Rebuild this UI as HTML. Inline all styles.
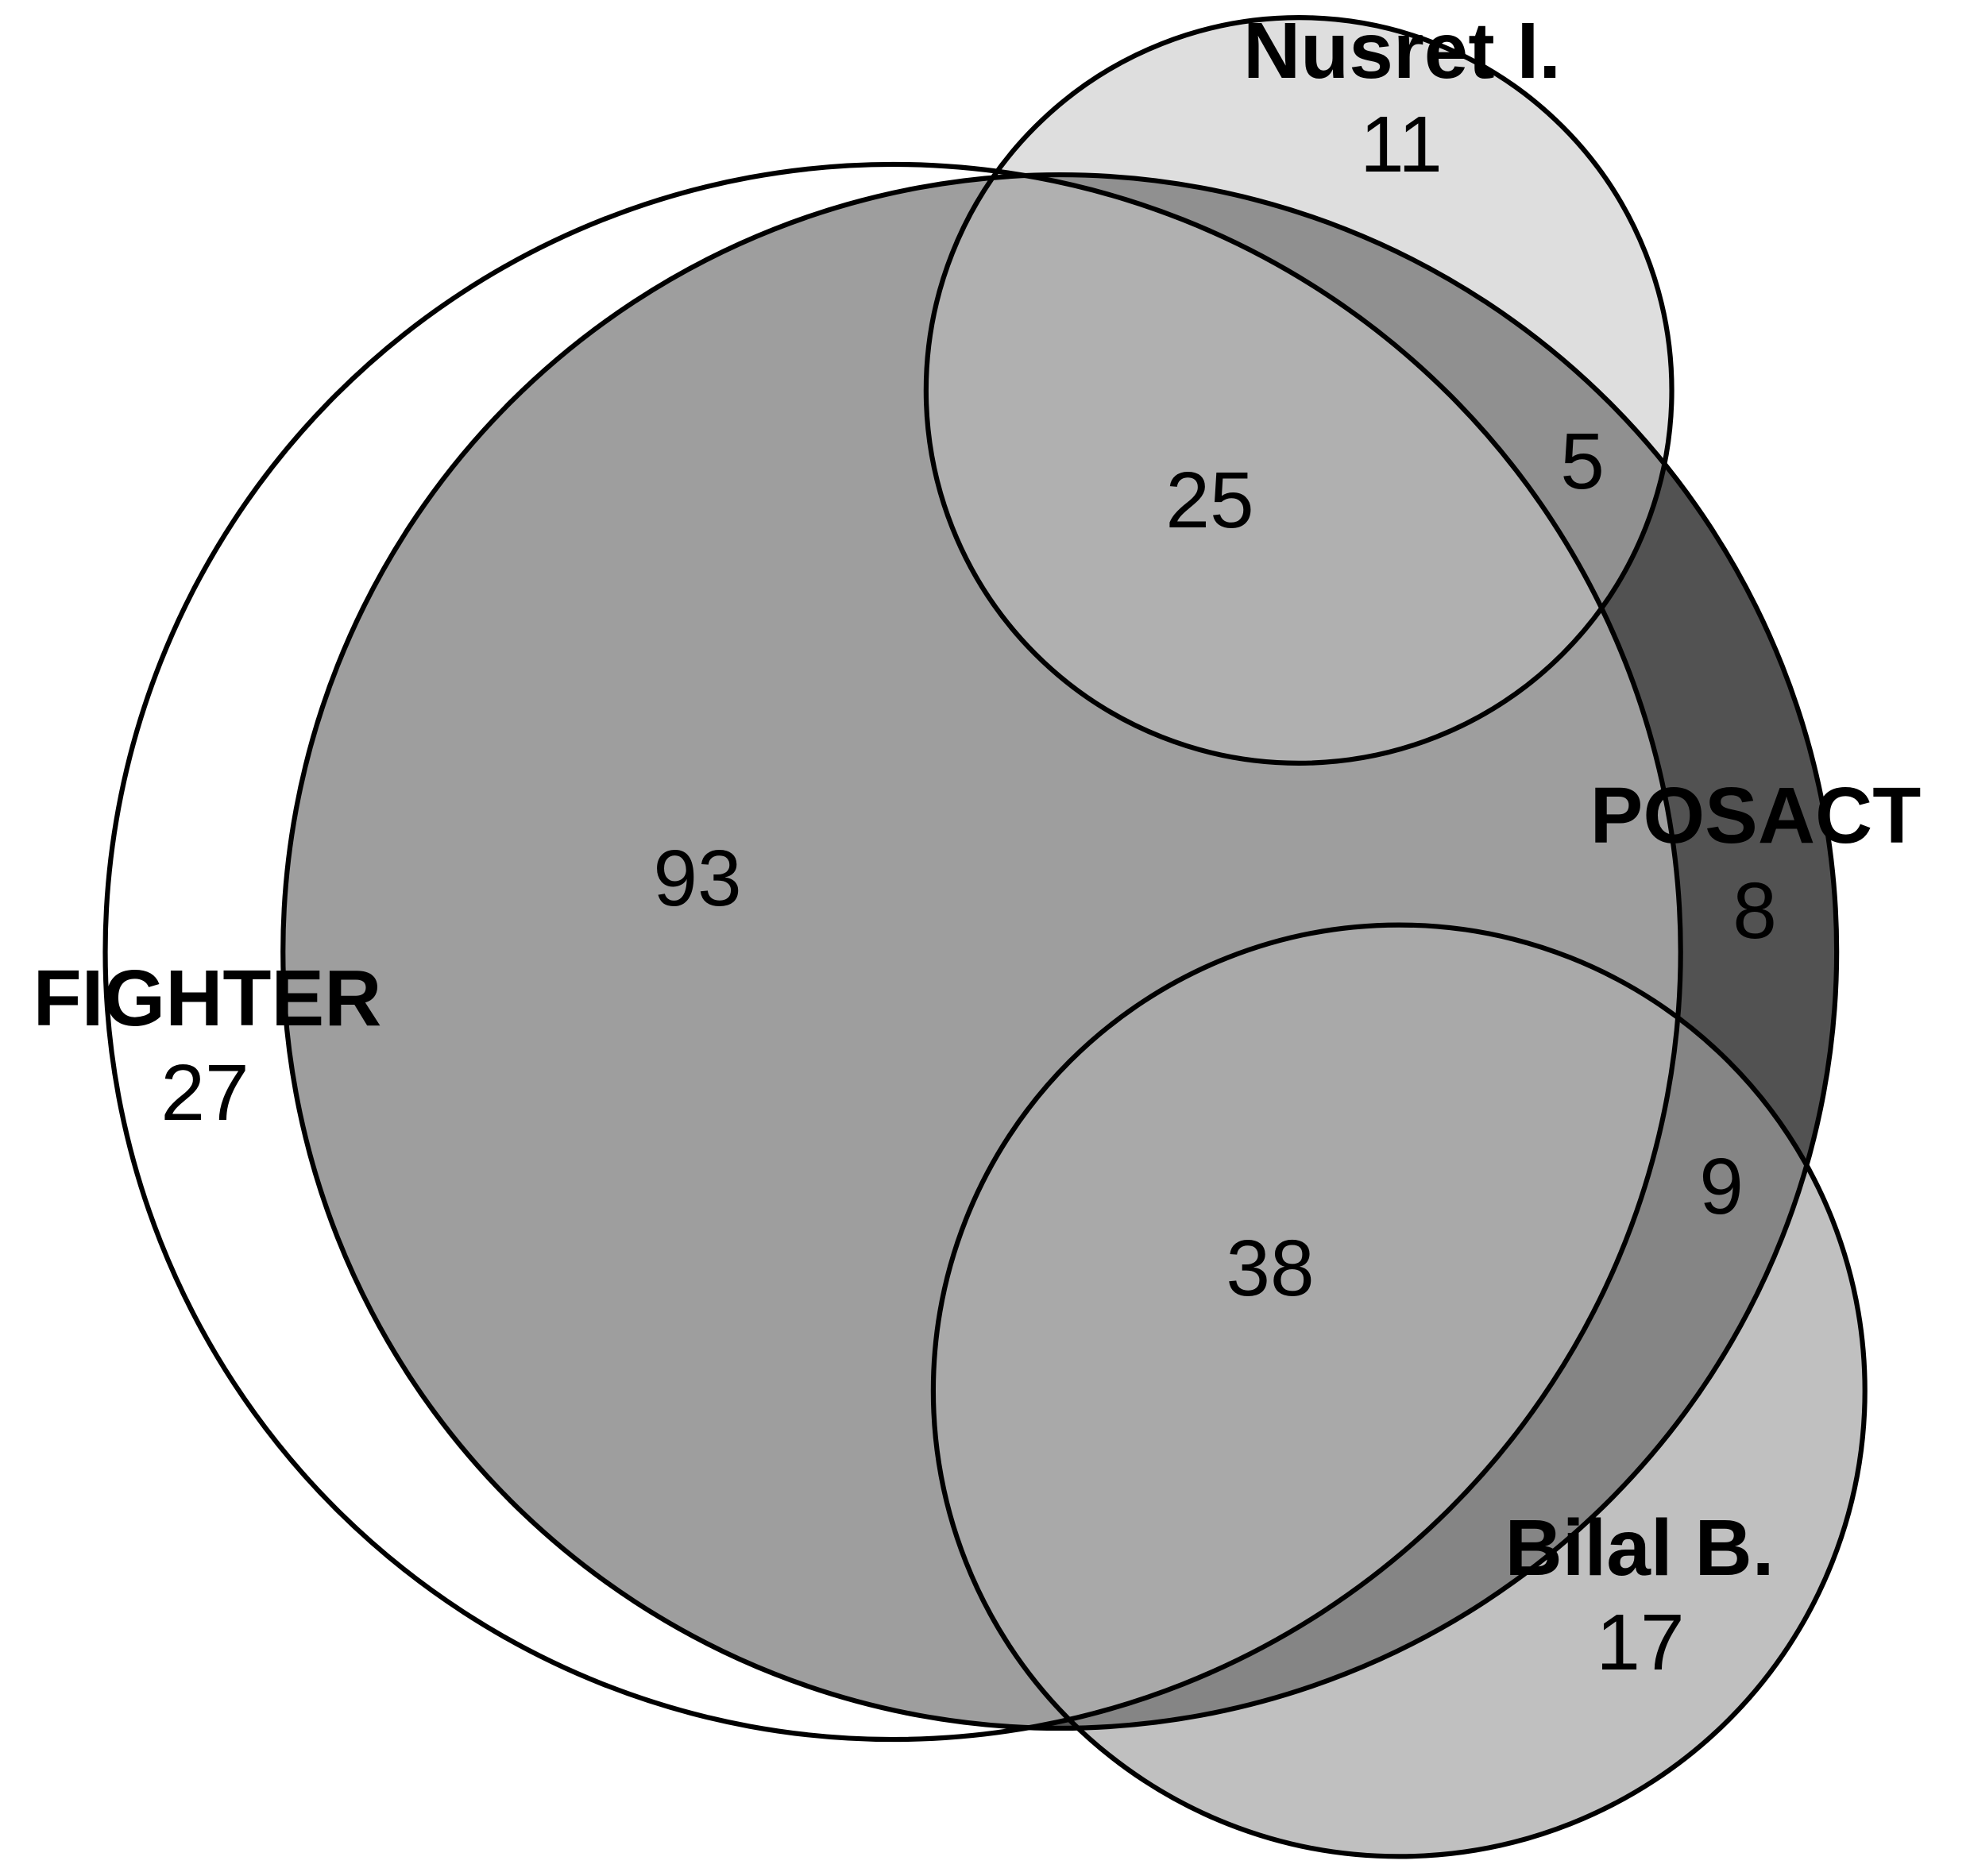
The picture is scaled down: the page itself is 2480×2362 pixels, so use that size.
<!DOCTYPE html>
<html lang="en">
<head>
<meta charset="utf-8">
<title>Venn diagram</title>
<style>
html,body{margin:0;padding:0;background:#fff;width:2480px;height:2362px;overflow:hidden}
svg{display:block}
text{font-family:"Liberation Sans",Arial,sans-serif;font-size:100px;fill:#000;text-anchor:middle}
.set-name{font-weight:bold}
</style>
</head>
<body>
<svg id="venn" xmlns="http://www.w3.org/2000/svg" width="2480" height="2362" viewBox="0 0 2480 2362">
<rect width="2480" height="2362" fill="#ffffff"/>
</svg>
<script>
// Data: printed counts for each region of the diagram
const setNames = ["FIGHTER", "POSACT", "Nusret I.", "Bilal B."];
const onlyCounts = [27, 8, 11, 17];
const fighterPosactCount = [93];
const fighterPosactNusretCount = [25];
const posactNusretCount = [5];
const fighterPosactBilalCount = [38];
const posactBilalCount = [9];

// Set totals are the sums of their regions
const totals = [
  onlyCounts[0] + fighterPosactCount[0] + fighterPosactNusretCount[0] + fighterPosactBilalCount[0],
  onlyCounts[1] + fighterPosactCount[0] + fighterPosactNusretCount[0] + posactNusretCount[0] + fighterPosactBilalCount[0] + posactBilalCount[0],
  onlyCounts[2] + fighterPosactNusretCount[0] + posactNusretCount[0],
  onlyCounts[3] + fighterPosactBilalCount[0] + posactBilalCount[0]
];

// Circle area is proportional to the set total
function radius(total) { return 73.3 * Math.sqrt(total); }

const svg = document.getElementById("venn");
const NS = "http://www.w3.org/2000/svg";
function centerOf(i) {
  if (i === 0) return [1124.1, 1198.5];
  if (i === 1) return [1334.2, 1198];
  if (i === 2) return [1635.2, 491.5];
  return [1761.3, 1751];
}
function circle(i) {
  const el = document.createElementNS(NS, "circle");
  const c = centerOf(i);
  el.setAttribute("cx", c[0]);
  el.setAttribute("cy", c[1]);
  el.setAttribute("r", radius(totals[i]));
  return el;
}

const defs = document.createElementNS(NS, "defs");
svg.appendChild(defs);
for (let i = 0; i < 4; i++) {
  const cp = document.createElementNS(NS, "clipPath");
  cp.setAttribute("id", "clip-" + i);
  cp.appendChild(circle(i));
  defs.appendChild(cp);
}

// Paint a region: the circle "top" clipped to each set in "within"
function region(name, top, within, color) {
  let parent = svg;
  within.forEach(function (w) {
    const g = document.createElementNS(NS, "g");
    g.setAttribute("clip-path", "url(#clip-" + w + ")");
    parent.appendChild(g);
    parent = g;
  });
  const el = circle(top);
  el.setAttribute("fill", color);
  
  
  parent.appendChild(el);
}
region("fighter-only-region", 0, [], "#ffffff");
region("nusret-only-region", 2, [], "#dedede");
region("bilal-only-region", 3, [], "#c0c0c0");
region("posact-only-region", 1, [], "#525252");
region("posact-nusret-region", 2, [1], "#909090");
region("posact-bilal-region", 3, [1], "#858585");
region("fighter-posact-region", 0, [1], "#9e9e9e");
region("fighter-posact-nusret-region", 2, [0, 1], "#b0b0b0");
region("fighter-posact-bilal-region", 3, [0, 1], "#a9a9a9");

const outlineNames = ["fighter-circle", "posact-circle", "nusret-circle", "bilal-circle"];
[0, 2, 3, 1].forEach(function (i) {
  const el = circle(i);
  el.setAttribute("fill", "none");
  el.setAttribute("stroke", "#000");
  el.setAttribute("stroke-width", "6.2");
  
  
  svg.appendChild(el);
});

function label(str, x, y, cls, name) {
  const t = document.createElementNS(NS, "text");
  t.setAttribute("x", x);
  t.setAttribute("y", y);
  if (cls) t.setAttribute("class", cls);
  t.textContent = str;
  
  
  svg.appendChild(t);
}
label(setNames[0], 261, 1291, "set-name", "fighter-label");
label(onlyCounts[0], 258, 1410, "", "fighter-only-count");
label(setNames[1], 2210, 1061, "set-name", "posact-label");
label(onlyCounts[1], 2209, 1181, "", "posact-only-count");
label(setNames[2], 1765, 98, "set-name", "nusret-label");
label(onlyCounts[2], 1764, 216, "", "nusret-only-count");
label(setNames[3], 2064, 1983, "set-name", "bilal-label");
label(onlyCounts[3], 2065, 2102, "", "bilal-only-count");
label(fighterPosactCount[0], 878, 1140, "", "fighter-posact-count");
label(fighterPosactNusretCount[0], 1523, 664, "", "fighter-posact-nusret-count");
label(posactNusretCount[0], 1992, 615, "", "posact-nusret-count");
label(fighterPosactBilalCount[0], 1599, 1631, "", "fighter-posact-bilal-count");
label(posactBilalCount[0], 2167, 1528, "", "posact-bilal-count");
</script>
</body>
</html>
